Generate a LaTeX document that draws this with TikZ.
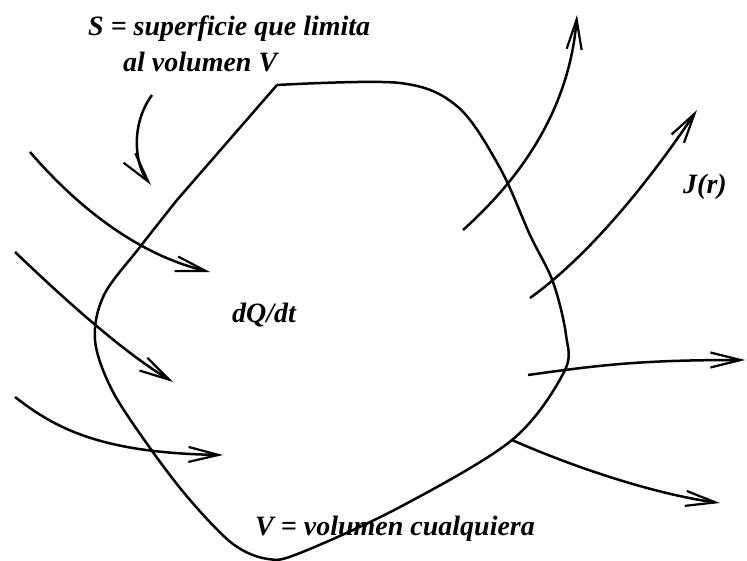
\documentclass[tikz,border=0pt]{standalone}
\usepackage{fontspec}
\setmainfont{Liberation Serif}
\usetikzlibrary{arrows.meta}
\tikzset{
  curve/.style={line width=2.5pt, line join=round},
  flow/.style={line width=2.5pt, -{Straight Barb[length=30pt,width=15pt,line width=2.2pt]}},
  lbl/.style={anchor=base west, inner sep=0pt, font=\fontsize{28}{30}\selectfont\bfseries\itshape}
}
\begin{document}
\begin{tikzpicture}[x=1pt,y=-1pt]
\useasboundingbox (0,0) rectangle (747,561);
% boundary surface S
\draw[curve] (177,200) -- (277,85)
  plot[smooth, tension=0.55] coordinates {(277,85) (400,83) (458,107) (500,168) (530,235) (553,282) (566,335) (564,372) (512,440) (400,507) (300,553) (268,559) (233,544) (190,500) (150,448) (112,390) (95,340) (104,295) (140,247) (177,200)};
% coordinates of flow lines
\coordinate (a1s) at (30,152);   \coordinate (a1e) at (210,272);
\coordinate (a2s) at (15,252);   \coordinate (a2e) at (173,382);
\coordinate (a3s) at (15,397);   \coordinate (a3e) at (223,455);
\coordinate (b1s) at (463,230);  \coordinate (b1e) at (577,15);
\coordinate (b2s) at (530,298);  \coordinate (b2e) at (697,110);
\coordinate (b3s) at (528,375);  \coordinate (b3e) at (745,360);
\coordinate (b4s) at (512,440);  \coordinate (b4e) at (720,503);
\coordinate (ss) at (152,95);    \coordinate (se) at (151,185);
% incoming flow
\draw[flow] (a1s) .. controls (80,210) and (140,255) .. (a1e);
\draw[flow] (a2s) .. controls (60,295) and (120,350) .. (a2e);
\draw[flow] (a3s) .. controls (55,428) and (100,453) .. (a3e);
% outgoing flow
\draw[flow] (b1s) .. controls (530,170) and (570,100) .. (b1e);
\draw[flow] (b2s) .. controls (590,255) and (650,180) .. (b2e);
\draw[flow] (b3s) .. controls (600,365) and (640,360) .. (b3e);
\draw[flow] (b4s) .. controls (580,470) and (660,495) .. (b4e);
% pointer to surface
\draw[flow] (ss) .. controls (130,125) and (135,165) .. (se);
% labels
\node[lbl] (sl1) at (88,36) {S = superficie que limita};
\node[lbl] (sl2) at (123,72) {al volumen V};
\node[lbl] (dq) at (232,323) {dQ/dt};
\node[lbl] (jr) at (683,194) {J(r)};
\node[lbl] (vl) at (255,535) {V = volumen cualquiera};
\end{tikzpicture}
\end{document}
